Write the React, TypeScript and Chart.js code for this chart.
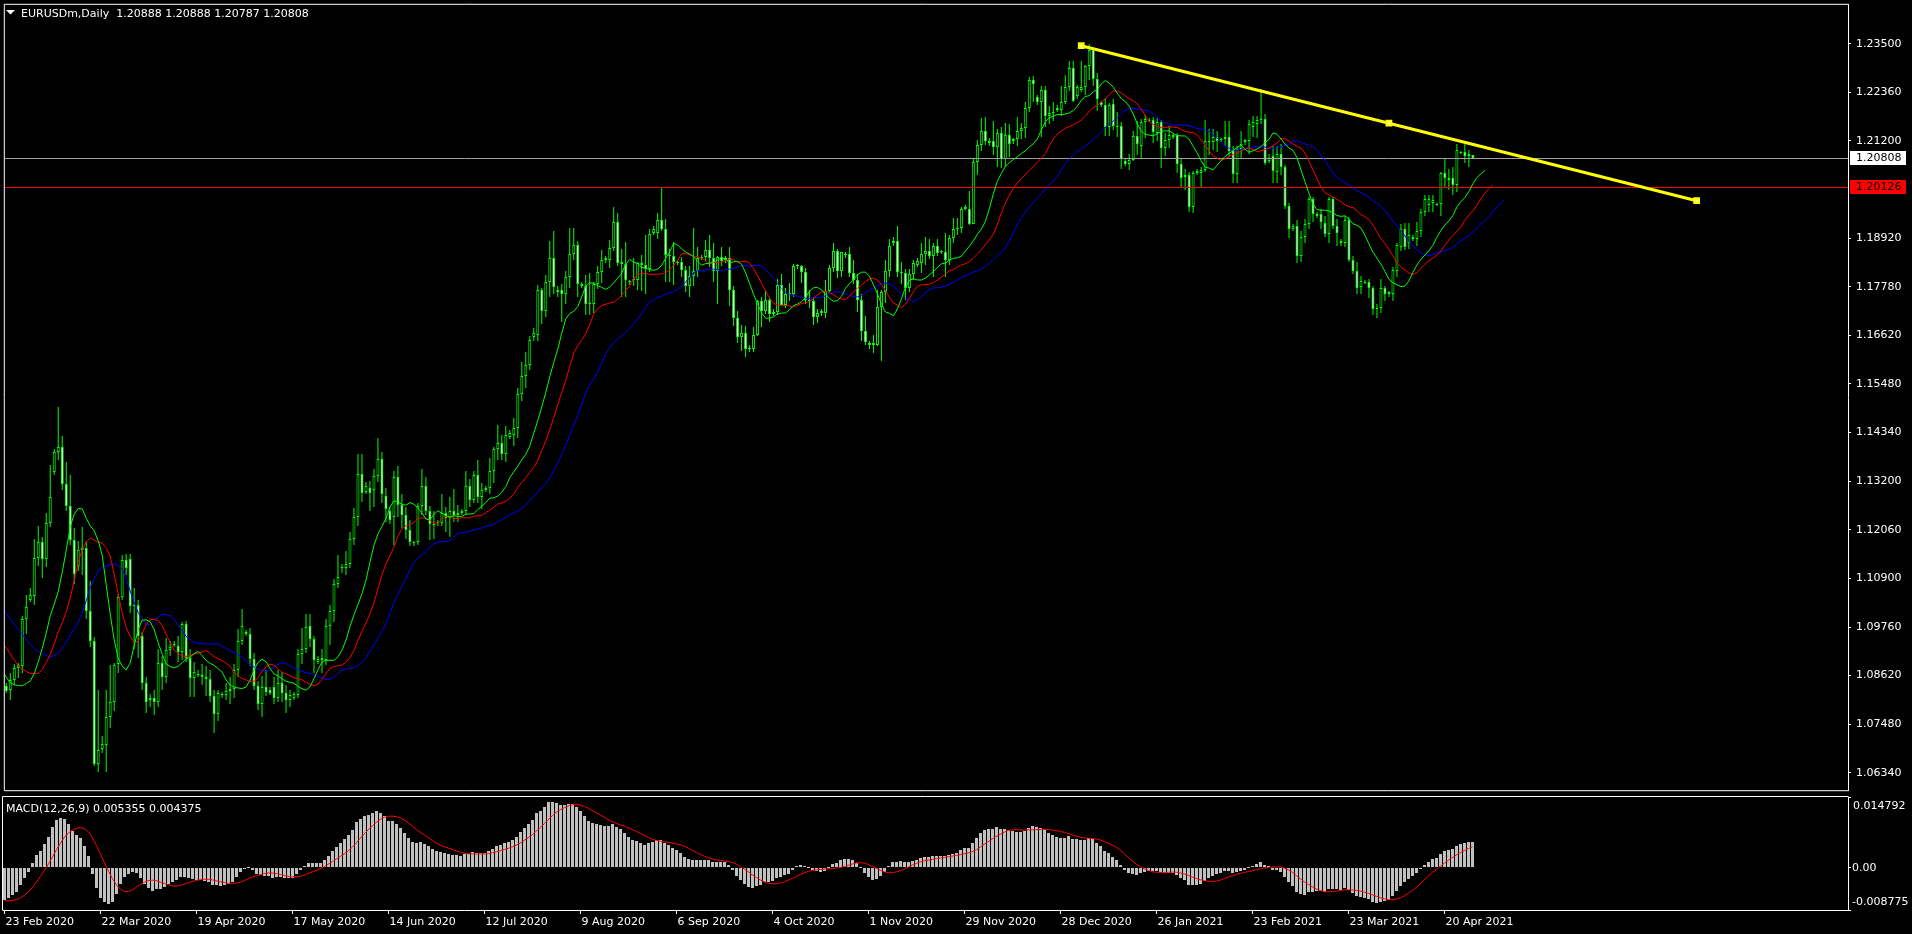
import React, { useEffect, useRef } from 'react';
import { Chart, registerables } from 'chart.js';

Chart.register(...registerables);

const FONT = '"DejaVu Sans", sans-serif';
const W = 1912;
const TOP_H = 795;
const BOT_H = 934 - TOP_H;

// ---------- visible daily bars (23 Feb 2020 .. 28 Apr 2021, incl. Sunday bars) ----------
const opens = [
  1.0838,1.0830,1.0852,1.0880,1.0886,1.0995,1.1040,1.1050,1.1140,1.1178,1.1138,1.1222,
  1.1343,1.1388,1.1400,1.1313,1.1263,1.1182,1.1121,1.1158,1.1164,1.1016,1.0944,1.0655,
  1.0690,1.0700,1.0765,1.0800,1.0891,1.1047,1.1135,1.1137,1.1027,1.1030,1.0955,1.0846,
  1.0805,1.0810,1.0800,1.0893,1.0860,1.0922,1.0938,1.0932,1.0918,1.0985,1.0905,1.0858,
  1.0866,1.0865,1.0860,1.0855,1.0815,1.0773,1.0820,1.0818,1.0826,1.0832,1.0875,1.0944,
  1.0965,1.0961,1.0901,1.0839,1.0797,1.0836,1.0830,1.0836,1.0809,1.0846,1.0821,1.0806,
  1.0810,1.0818,1.0914,1.0925,1.0979,1.0948,1.0895,1.0900,1.0900,1.0979,1.1016,1.1078,
  1.1115,1.1117,1.1126,1.1185,1.1236,1.1337,1.1295,1.1305,1.1300,1.1333,1.1373,1.1286,
  1.1250,1.1235,1.1330,1.1265,1.1240,1.1205,1.1175,1.1178,1.1262,1.1310,1.1250,1.1220,
  1.1225,1.1222,1.1245,1.1234,1.1250,1.1240,1.1245,1.1250,1.1310,1.1275,1.1334,1.1283,
  1.1300,1.1305,1.1345,1.1397,1.1410,1.1385,1.1425,1.1430,1.1445,1.1525,1.1568,1.1595,
  1.1660,1.1665,1.1770,1.1720,1.1790,1.1845,1.1770,1.1770,1.1762,1.1801,1.1856,1.1877,
  1.1785,1.1780,1.1737,1.1738,1.1784,1.1812,1.1840,1.1842,1.1870,1.1930,1.1837,1.1832,
  1.1790,1.1795,1.1794,1.1834,1.1830,1.1819,1.1905,1.1905,1.1936,1.1913,1.1853,1.1851,
  1.1835,1.1836,1.1817,1.1780,1.1803,1.1814,1.1845,1.1847,1.1865,1.1846,1.1814,1.1848,
  1.1840,1.1845,1.1770,1.1705,1.1660,1.1670,1.1632,1.1632,1.1665,1.1744,1.1720,1.1748,
  1.1715,1.1718,1.1782,1.1735,1.1760,1.1762,1.1826,1.1826,1.1813,1.1746,1.1745,1.1706,
  1.1717,1.1717,1.1768,1.1822,1.1863,1.1814,1.1855,1.1855,1.1811,1.1794,1.1746,1.1674,
  1.1645,1.1645,1.1641,1.1730,1.1765,1.1815,1.1880,1.1885,1.1813,1.1810,1.1776,1.1808,
  1.1830,1.1835,1.1855,1.1862,1.1850,1.1875,1.1860,1.1860,1.1842,1.1892,1.1915,1.1917,
  1.1962,1.1962,1.1926,1.2072,1.2112,1.2144,1.2121,1.2120,1.2106,1.2140,1.2079,1.2135,
  1.2120,1.2125,1.2145,1.2152,1.2199,1.2265,1.2225,1.2212,1.2240,1.2180,1.2186,1.2195,
  1.2195,1.2213,1.2249,1.2294,1.2227,1.2240,1.2247,1.2297,1.2336,1.2268,1.2212,1.2205,
  1.2153,1.2207,1.2157,1.2156,1.2075,1.2068,1.2076,1.2133,1.2110,1.2166,1.2168,1.2170,
  1.2141,1.2165,1.2105,1.2124,1.2135,1.2136,1.2066,1.2037,1.2040,1.1966,1.2045,1.2045,
  1.2052,1.2120,1.2118,1.2131,1.2123,1.2125,1.2130,1.2100,1.2043,1.2102,1.2118,1.2122,
  1.2155,1.2160,1.2170,1.2174,1.2075,1.2085,1.2047,1.2090,1.2060,1.1968,1.1915,1.1920,
  1.1850,1.1895,1.1925,1.1985,1.1950,1.1950,1.1928,1.1903,1.1985,1.1920,1.1885,1.1880,
  1.1935,1.1842,1.1814,1.1778,1.1790,1.1790,1.1774,1.1725,1.1728,1.1775,1.1760,1.1760,
  1.1815,1.1872,1.1915,1.1880,1.1895,1.1890,1.1910,1.1955,1.1970,1.1975,1.1971,1.1972,
  1.2045,1.2035,1.2035,1.2018,1.2092,1.2095,1.2085,1.20888,
];
const highs = [
  1.0846,1.0868,1.0891,1.0893,1.1004,1.1053,1.1070,1.1185,1.1214,1.1188,1.1245,1.1358,
  1.1397,1.1496,1.1426,1.1366,1.1335,1.1210,1.1180,1.1212,1.1180,1.1085,1.0953,1.0829,
  1.0720,1.0830,1.0887,1.0892,1.1055,1.1147,1.1150,1.1150,1.1070,1.1040,1.0965,1.0860,
  1.0820,1.0830,1.0925,1.0910,1.0952,1.0945,1.0945,1.0955,1.0990,1.0991,1.0925,1.0895,
  1.0875,1.0890,1.0885,1.0875,1.0830,1.0830,1.0825,1.0845,1.0860,1.0890,1.0972,1.1019,
  1.0970,1.0975,1.0915,1.0850,1.0862,1.0875,1.0836,1.0860,1.0875,1.0872,1.0840,1.0830,
  1.0825,1.0925,1.0975,1.1008,1.1008,1.0955,1.0910,1.0925,1.0995,1.1030,1.1090,1.1147,
  1.1125,1.1155,1.1200,1.1258,1.1385,1.1384,1.1318,1.1320,1.1350,1.1422,1.1390,1.1305,
  1.1260,1.1345,1.1355,1.1290,1.1260,1.1230,1.1180,1.1270,1.1349,1.1330,1.1262,1.1250,
  1.1230,1.1290,1.1260,1.1283,1.1303,1.1265,1.1255,1.1345,1.1325,1.1345,1.1370,1.1315,
  1.1310,1.1375,1.1402,1.1452,1.1430,1.1450,1.1440,1.1468,1.1540,1.1601,1.1625,1.1663,
  1.1680,1.1781,1.1776,1.1805,1.1885,1.1909,1.1780,1.1785,1.1815,1.1916,1.1917,1.1885,
  1.1790,1.1805,1.1810,1.1790,1.1826,1.1865,1.1850,1.1887,1.1966,1.1951,1.1868,1.1883,
  1.1795,1.1846,1.1837,1.1853,1.1901,1.1915,1.1920,1.1951,1.2011,1.1937,1.1867,1.1883,
  1.1840,1.1848,1.1827,1.1826,1.1917,1.1871,1.1853,1.1888,1.1901,1.1882,1.1851,1.1872,
  1.1850,1.1872,1.1780,1.1722,1.1688,1.1685,1.1640,1.1684,1.1746,1.1755,1.1770,1.1752,
  1.1725,1.1797,1.1809,1.1774,1.1786,1.1831,1.1832,1.1829,1.1821,1.1770,1.1755,1.1725,
  1.1725,1.1795,1.1830,1.1880,1.1866,1.1860,1.1860,1.1871,1.1842,1.1807,1.1760,1.1710,
  1.1650,1.1665,1.1770,1.1770,1.1840,1.1890,1.1895,1.1920,1.1837,1.1820,1.1820,1.1840,
  1.1845,1.1880,1.1895,1.1890,1.1880,1.1890,1.1865,1.1905,1.1900,1.1940,1.1940,1.1965,
  1.1970,1.2004,1.2078,1.2124,1.2176,1.2177,1.2128,1.2167,1.2150,1.2154,1.2163,1.2162,
  1.2128,1.2178,1.2163,1.2212,1.2272,1.2273,1.2230,1.2250,1.2250,1.2203,1.2212,1.2205,
  1.2250,1.2276,1.2310,1.2310,1.2252,1.2310,1.2300,1.2349,1.2340,1.2280,1.2215,1.2223,
  1.2211,1.2221,1.2190,1.2166,1.2080,1.2090,1.2145,1.2168,1.2172,1.2183,1.2175,1.2177,
  1.2175,1.2170,1.2140,1.2156,1.2140,1.2140,1.2079,1.2055,1.2047,1.2050,1.2055,1.2060,
  1.2170,1.2150,1.2149,1.2145,1.2128,1.2168,1.2169,1.2110,1.2110,1.2144,1.2126,1.2170,
  1.2181,1.2180,1.2243,1.2184,1.2090,1.2110,1.2110,1.2113,1.2065,1.1975,1.1925,1.1935,
  1.1910,1.1937,1.1990,1.1990,1.1955,1.1962,1.1944,1.1990,1.1990,1.1937,1.1890,1.1945,
  1.1943,1.1851,1.1836,1.1803,1.1795,1.1797,1.1780,1.1738,1.1796,1.1780,1.1768,1.1825,
  1.1880,1.1925,1.1928,1.1928,1.1900,1.1930,1.1960,1.1995,1.1995,1.1995,1.1975,1.2048,
  1.2080,1.2055,1.2060,1.2115,1.2098,1.2115,1.2100,1.20888,
];
const lows = [
  1.0821,1.0805,1.0840,1.0857,1.0870,1.0960,1.1035,1.1030,1.1120,1.1093,1.1118,1.1213,
  1.1335,1.1370,1.1300,1.1250,1.1171,1.1078,1.1110,1.1100,1.0995,1.0930,1.0650,1.0637,
  1.0680,1.0636,1.0740,1.0780,1.0868,1.1040,1.1100,1.1010,1.0925,1.0905,1.0830,1.0775,
  1.0790,1.0770,1.0790,1.0830,1.0845,1.0910,1.0930,1.0895,1.0900,1.0895,1.0812,1.0812,
  1.0860,1.0840,1.0815,1.0800,1.0728,1.0755,1.0810,1.0805,1.0795,1.0810,1.0860,1.0935,
  1.0955,1.0885,1.0830,1.0782,1.0766,1.0815,1.0818,1.0795,1.0800,1.0800,1.0775,1.0790,
  1.0805,1.0810,1.0890,1.0915,1.0930,1.0870,1.0890,1.0870,1.0888,1.0935,1.0990,1.1070,
  1.1105,1.1100,1.1115,1.1170,1.1215,1.1272,1.1290,1.1250,1.1260,1.1318,1.1270,1.1225,
  1.1220,1.1170,1.1235,1.1210,1.1185,1.1168,1.1168,1.1170,1.1240,1.1240,1.1183,1.1185,
  1.1215,1.1215,1.1200,1.1190,1.1225,1.1225,1.1240,1.1240,1.1260,1.1268,1.1270,1.1255,
  1.1295,1.1290,1.1317,1.1370,1.1370,1.1366,1.1420,1.1403,1.1422,1.1510,1.1540,1.1583,
  1.1650,1.1650,1.1690,1.1706,1.1755,1.1762,1.1755,1.1696,1.1737,1.1776,1.1841,1.1754,
  1.1775,1.1711,1.1711,1.1716,1.1772,1.1787,1.1835,1.1823,1.1863,1.1828,1.1754,1.1754,
  1.1783,1.1780,1.1771,1.1769,1.1762,1.1812,1.1900,1.1890,1.1910,1.1789,1.1789,1.1781,
  1.1830,1.1801,1.1765,1.1753,1.1780,1.1800,1.1840,1.1838,1.1825,1.1790,1.1737,1.1826,
  1.1835,1.1732,1.1685,1.1646,1.1627,1.1612,1.1625,1.1624,1.1662,1.1683,1.1715,1.1696,
  1.1710,1.1712,1.1734,1.1729,1.1745,1.1755,1.1820,1.1787,1.1738,1.1727,1.1688,1.1693,
  1.1710,1.1704,1.1766,1.1813,1.1798,1.1802,1.1845,1.1802,1.1785,1.1718,1.1650,1.1640,
  1.1632,1.1622,1.1638,1.1603,1.1740,1.1800,1.1875,1.1800,1.1785,1.1746,1.1765,1.1795,
  1.1825,1.1810,1.1830,1.1843,1.1800,1.1850,1.1855,1.1800,1.1830,1.1880,1.1900,1.1905,
  1.1958,1.1923,1.1925,1.2040,1.2098,1.2111,1.2110,1.2088,1.2059,1.2058,1.2059,1.2084,
  1.2115,1.2110,1.2126,1.2127,1.2190,1.2214,1.2205,1.2130,1.2153,1.2160,1.2168,1.2190,
  1.2180,1.2208,1.2239,1.2212,1.2220,1.2236,1.2230,1.2264,1.2250,1.2192,1.2200,1.2132,
  1.2132,1.2148,1.2130,1.2054,1.2062,1.2053,1.2074,1.2087,1.2080,1.2129,1.2165,1.2116,
  1.2120,1.2058,1.2085,1.2105,1.2125,1.2046,1.2010,1.2005,1.1953,1.1952,1.2040,1.2010,
  1.2048,1.2088,1.2100,1.2094,1.2118,1.2110,1.2085,1.2023,1.2022,1.2081,1.2112,1.2090,
  1.2130,1.2128,1.2161,1.2065,1.2070,1.2023,1.2022,1.2040,1.1962,1.1893,1.1910,1.1835,
  1.1836,1.1880,1.1913,1.1930,1.1940,1.1913,1.1894,1.1880,1.1913,1.1873,1.1875,1.1872,
  1.1836,1.1808,1.1762,1.1760,1.1785,1.1752,1.1712,1.1704,1.1716,1.1745,1.1755,1.1745,
  1.1800,1.1862,1.1865,1.1867,1.1885,1.1875,1.1895,1.1945,1.1955,1.1953,1.1968,1.1945,
  1.2010,1.2005,1.1995,1.2000,1.2090,1.2070,1.2060,1.20787,
];
const closes = [
  1.0826,1.0852,1.0880,1.0887,1.0995,1.1025,1.1052,1.1140,1.1177,1.1138,1.1222,1.1283,
  1.1388,1.1400,1.1313,1.1263,1.1182,1.1101,1.1158,1.1164,1.1016,1.0944,1.0656,1.0688,
  1.0702,1.0765,1.0800,1.0889,1.1047,1.1135,1.1117,1.1027,1.1030,1.0955,1.0846,1.0801,
  1.0811,1.0800,1.0893,1.0860,1.0922,1.0930,1.0934,1.0918,1.0985,1.0905,1.0858,1.0872,
  1.0865,1.0860,1.0855,1.0815,1.0773,1.0822,1.0817,1.0826,1.0832,1.0875,1.0944,1.0979,
  1.0961,1.0901,1.0839,1.0797,1.0836,1.0825,1.0823,1.0809,1.0846,1.0821,1.0806,1.0818,
  1.0820,1.0914,1.0925,1.0977,1.0948,1.0899,1.0903,1.0905,1.0979,1.1016,1.1078,1.1096,
  1.1117,1.1126,1.1185,1.1236,1.1337,1.1292,1.1310,1.1293,1.1333,1.1373,1.1290,1.1256,
  1.1230,1.1330,1.1265,1.1240,1.1205,1.1177,1.1178,1.1262,1.1310,1.1250,1.1220,1.1218,
  1.1222,1.1245,1.1234,1.1250,1.1240,1.1245,1.1250,1.1310,1.1275,1.1334,1.1283,1.1300,
  1.1305,1.1345,1.1397,1.1410,1.1385,1.1428,1.1435,1.1445,1.1525,1.1568,1.1595,1.1653,
  1.1670,1.1770,1.1720,1.1790,1.1845,1.1778,1.1765,1.1762,1.1801,1.1856,1.1877,1.1785,
  1.1780,1.1737,1.1738,1.1784,1.1812,1.1842,1.1845,1.1870,1.1930,1.1834,1.1832,1.1795,
  1.1790,1.1794,1.1834,1.1829,1.1819,1.1903,1.1915,1.1936,1.1915,1.1853,1.1851,1.1837,
  1.1836,1.1817,1.1780,1.1803,1.1814,1.1845,1.1847,1.1865,1.1846,1.1814,1.1848,1.1839,
  1.1845,1.1770,1.1705,1.1660,1.1670,1.1632,1.1635,1.1665,1.1744,1.1720,1.1748,1.1715,
  1.1718,1.1782,1.1735,1.1760,1.1762,1.1826,1.1828,1.1813,1.1746,1.1745,1.1706,1.1717,
  1.1720,1.1768,1.1822,1.1863,1.1814,1.1859,1.1852,1.1811,1.1794,1.1746,1.1674,1.1647,
  1.1642,1.1641,1.1730,1.1765,1.1815,1.1875,1.1885,1.1813,1.1810,1.1776,1.1808,1.1833,
  1.1838,1.1855,1.1863,1.1850,1.1875,1.1857,1.1862,1.1842,1.1892,1.1915,1.1917,1.1962,
  1.1965,1.1926,1.2072,1.2112,1.2144,1.2121,1.2117,1.2106,1.2140,1.2079,1.2135,1.2113,
  1.2125,1.2145,1.2152,1.2199,1.2265,1.2255,1.2212,1.2240,1.2180,1.2186,1.2190,1.2198,
  1.2213,1.2249,1.2294,1.2215,1.2249,1.2247,1.2297,1.2336,1.2268,1.2219,1.2205,1.2153,
  1.2206,1.2157,1.2154,1.2078,1.2068,1.2076,1.2133,1.2114,1.2166,1.2172,1.2170,1.2143,
  1.2165,1.2105,1.2124,1.2136,1.2130,1.2068,1.2035,1.2040,1.1966,1.2045,1.2050,1.2052,
  1.2120,1.2118,1.2131,1.2120,1.2125,1.2130,1.2097,1.2043,1.2103,1.2115,1.2124,1.2160,
  1.2165,1.2170,1.2174,1.2070,1.2082,1.2050,1.2090,1.2060,1.1968,1.1913,1.1922,1.1850,
  1.1895,1.1925,1.1985,1.1950,1.1945,1.1930,1.1903,1.1985,1.1920,1.1905,1.1880,1.1935,
  1.1842,1.1814,1.1775,1.1792,1.1787,1.1774,1.1725,1.1728,1.1775,1.1761,1.1765,1.1818,
  1.1876,1.1915,1.1872,1.1900,1.1890,1.1910,1.1955,1.1985,1.1985,1.1983,1.1972,1.2045,
  1.2035,1.2030,1.2018,1.2100,1.2095,1.2085,1.2090,1.20808,
];

// ---------- earlier bars (Jan - 21 Feb 2020), only feed the indicators ----------
const histHighs = [
  1.1228,1.1174,1.1170,1.1206,1.1196,1.1165,1.1118,1.1128,1.1125,1.1145,1.1146,
  1.1167,1.1173,1.1142,1.1095,1.1101,1.1101,1.1096,1.1100,1.1060,1.1030,1.1037,
  1.1030,1.1030,1.1043,1.1096,1.1095,1.1096,1.1066,1.1050,1.1014,1.0986,1.0948,
  1.0955,1.0930,1.0929,1.0870,1.0862,1.0836,1.0845,1.0851,1.0818,1.0810,1.0863,
];
const histLows = [
  1.1163,1.1125,1.1155,1.1150,1.1134,1.1091,1.1087,1.1091,1.1115,1.1110,1.1104,
  1.1117,1.1133,1.1085,1.1087,1.1080,1.1075,1.1076,1.1036,1.1020,1.1018,1.1009,
  1.1008,1.0992,1.1004,1.1019,1.1085,1.1056,1.1038,1.0995,1.0973,1.0942,1.0938,
  1.0905,1.0891,1.0870,1.0834,1.0827,1.0828,1.0822,1.0785,1.0778,1.0778,1.0778,
];
const histCloses = [
  1.1172,1.1160,1.1163,1.1196,1.1152,1.1105,1.1105,1.1120,1.1120,1.1134,1.1127,
  1.1150,1.1136,1.1091,1.1092,1.1094,1.1082,1.1093,1.1054,1.1025,1.1022,1.1019,
  1.1021,1.1009,1.1031,1.1093,1.1090,1.1059,1.1044,1.1002,1.0980,1.0945,1.0943,
  1.0912,1.0915,1.0875,1.0840,1.0830,1.0834,1.0836,1.0792,1.0805,1.0783,1.0847,
];

// ---------- axes / annotations ----------
const symbolTitle = 'EURUSDm,Daily';
const bidPrice = 1.20808;
const levelPrice = 1.20126;
const trendBars = [269, 346, 423];
const trendPrices = [1.23453, 1.21629, 1.19805];
const priceTickValues = [1.235, 1.22356, 1.21212, 1.18924, 1.1778, 1.16636, 1.15492, 1.14348,
  1.13204, 1.1206, 1.10916, 1.09772, 1.08628, 1.07484, 1.0634];
const priceTickLabels = ['1.23500', '1.22360', '1.21200', '1.18920', '1.17780', '1.16620', '1.15480',
  '1.14340', '1.13200', '1.12060', '1.10900', '1.09760', '1.08620', '1.07480', '1.06340'];
const priceMin = 1.059317;
const priceMax = 1.24416;
const dateTickBars = [0, 24, 48, 72, 96, 120, 144, 168, 192, 216, 240, 264, 288, 312, 336, 360];
const dateTickLabels = ['23 Feb 2020', '22 Mar 2020', '19 Apr 2020', '17 May 2020', '14 Jun 2020',
  '12 Jul 2020', '9 Aug 2020', '6 Sep 2020', '4 Oct 2020', '1 Nov 2020', '29 Nov 2020',
  '28 Dec 2020', '26 Jan 2021', '23 Feb 2021', '23 Mar 2021', '20 Apr 2021'];
const macdMax = 0.014792;
const macdMin = -0.008775;
const macdTitle = 'MACD(12,26,9) 0.005355 0.004375';
const macdLabels = ['0.014792', '0.00', '-0.008775'];
const xMin = -0.375;
const xMax = 460.875;

// ---------- indicator maths ----------
function smma(src: number[], n: number): (number | null)[] {
  const out: (number | null)[] = new Array(src.length).fill(null);
  let sum = 0;
  for (let i = 0; i < src.length; i++) {
    if (i < n) {
      sum += src[i];
      if (i === n - 1) out[i] = sum / n;
    } else {
      out[i] = ((out[i - 1] as number) * (n - 1) + src[i]) / n;
    }
  }
  return out;
}
function ema(src: number[], n: number): number[] {
  const k = 2 / (n + 1);
  const out: number[] = [];
  for (let i = 0; i < src.length; i++) out.push(i === 0 ? src[0] : src[i] * k + out[i - 1] * (1 - k));
  return out;
}
function sma(src: number[], n: number): (number | null)[] {
  return src.map((_, i) => {
    if (i < n - 1) return null;
    let s = 0;
    for (let j = i - n + 1; j <= i; j++) s += src[j];
    return s / n;
  });
}

const noPad = (s: any) => {
  s.paddingTop = 0;
  s.paddingBottom = 0;
  s.paddingLeft = 0;
  s.paddingRight = 0;
};

// snaps library-computed element geometry to whole pixels (MT4 draws without anti-aliasing)
const pixelSnap = {
  id: 'pixelSnap',
  beforeDatasetsDraw(chart: any) {
    chart.data.datasets.forEach((ds: any, di: number) => {
      if (!ds.snap) return;
      const meta = chart.getDatasetMeta(di);
      meta.data.forEach((el: any) => {
        if (ds.snap === 'bar') {
          let y = Math.round(el.y);
          let b = Math.round(el.base);
          if (y === b) y = b - 1;
          el.y = y;
          el.base = b;
        } else if (ds.snap === 'hline') {
          el.y = Math.floor(el.y) + 0.5;
        }
      });
    });
  },
};

export default function App() {
  const topRef = useRef<HTMLCanvasElement>(null);
  const botRef = useRef<HTMLCanvasElement>(null);

  useEffect(() => {
    document.body.style.margin = '0';
    document.body.style.background = '#000';
    document.body.style.overflow = 'hidden';

    const H0 = histCloses.length;
    const allH = histHighs.concat(highs);
    const allL = histLows.concat(lows);
    const allC = histCloses.concat(closes);
    const med = allH.map((h, i) => (h + allL[i]) / 2);
    const jaw = smma(med, 13);
    const teeth = smma(med, 8);
    const lips = smma(med, 5);
    const e12 = ema(allC, 12);
    const e26 = ema(allC, 26);
    const macdMain = e12.map((v, i) => v - e26[i]);
    const macdSig = sma(macdMain, 9);

    const shifted = (arr: (number | null)[], shift: number) =>
      arr
        .map((v, j) => ({ x: j - H0 + shift, y: v }))
        .filter((p) => p.y !== null && p.x >= -3);

    const bodies = closes.map((c, i) => ({ x: i, y: [opens[i], c] }));
    const bodyColors = closes.map((c, i) => (c >= opens[i] ? '#000000' : '#FFFFFF'));
    const wicks = closes.map((c, i) => ({
      x: i,
      y: [Math.min(lows[i], opens[i], c), Math.max(highs[i], opens[i], c)],
    }));
    const trendPts = trendBars.map((b, i) => ({ x: b, y: trendPrices[i] }));

    const last = closes.length - 1;
    const headerText = `${symbolTitle}  ${opens[last].toFixed(5)} ${highs[last].toFixed(5)} ${lows[last].toFixed(5)} ${closes[last].toFixed(5)}`;

    const mainDecor = {
      id: 'mainDecor',
      afterDraw(chart: any) {
        const { ctx, chartArea } = chart;
        const { left, top, right, bottom } = chartArea;
        const ys = chart.scales.y;
        ctx.save();
        ctx.strokeStyle = '#FFFFFF';
        ctx.lineWidth = 1;
        ctx.beginPath();
        ctx.moveTo(left - 0.5, top - 0.5);
        ctx.lineTo(right + 0.5, top - 0.5);
        ctx.moveTo(left - 0.5, top - 0.5);
        ctx.lineTo(left - 0.5, bottom + 0.5);
        ctx.moveTo(left - 0.5, bottom + 0.5);
        ctx.lineTo(right + 0.5, bottom + 0.5);
        ctx.stroke();
        ctx.fillStyle = '#FFFFFF';
        ctx.beginPath();
        ctx.moveTo(6, 10);
        ctx.lineTo(15, 10);
        ctx.lineTo(10.5, 14.5);
        ctx.closePath();
        ctx.fill();
        ctx.font = `11px ${FONT}`;
        ctx.textBaseline = 'alphabetic';
        ctx.textAlign = 'left';
        ctx.fillText(headerText, 21, 17);
        const boxes = [
          { v: bidPrice, bg: '#FFFFFF' },
          { v: levelPrice, bg: '#FF0000' },
        ];
        for (const b of boxes) {
          const py = Math.round(ys.getPixelForValue(b.v));
          ctx.fillStyle = b.bg;
          ctx.fillRect(right + 2, py - 7, 56, 14);
          ctx.fillStyle = '#000000';
          ctx.textBaseline = 'middle';
          ctx.fillText(b.v.toFixed(5), right + 8, py + 0.5);
        }
        ctx.restore();
      },
    };

    const macdDecor = {
      id: 'macdDecor',
      afterDraw(chart: any) {
        const { ctx, chartArea } = chart;
        const { left, top, right, bottom } = chartArea;
        const ys = chart.scales.y;
        ctx.save();
        ctx.strokeStyle = '#FFFFFF';
        ctx.lineWidth = 1;
        ctx.beginPath();
        ctx.moveTo(left - 0.5, top - 0.5);
        ctx.lineTo(right + 0.5, top - 0.5);
        ctx.moveTo(left - 0.5, top - 0.5);
        ctx.lineTo(left - 0.5, bottom + 0.5);
        ctx.stroke();
        ctx.fillStyle = '#FFFFFF';
        ctx.font = `11px ${FONT}`;
        ctx.textAlign = 'left';
        ctx.textBaseline = 'alphabetic';
        ctx.fillText(macdTitle, 6, 17);
        ctx.textBaseline = 'middle';
        ctx.fillText(macdLabels[0], right + 5, ys.getPixelForValue(macdMax) + 9);
        ctx.fillText(macdLabels[1], right + 4, ys.getPixelForValue(0));
        ctx.fillText(macdLabels[2], right + 4, ys.getPixelForValue(macdMin) - 7.5);
        ctx.restore();
      },
    };

    const lineBase = { pointRadius: 0, borderWidth: 1, tension: 0, fill: false };

    const top = new Chart(topRef.current as HTMLCanvasElement, {
      type: 'bar',
      data: {
        datasets: [
          {
            type: 'line',
            data: trendPts,
            borderColor: '#FFFF00',
            borderWidth: 3,
            pointStyle: 'rect',
            pointRadius: 4.8,
            pointBackgroundColor: '#FFFF00',
            pointBorderWidth: 0,
            order: 0,
          } as any,
          {
            type: 'line',
            data: trendPts,
            showLine: false,
            pointStyle: 'rect',
            pointRadius: 1.4,
            pointBackgroundColor: '#FFFFFF',
            pointBorderWidth: 0,
            order: -1,
          } as any,
          { type: 'line', data: shifted(lips, 3), borderColor: '#00FF00', ...lineBase, order: 1 } as any,
          { type: 'line', data: shifted(teeth, 5), borderColor: '#FF0000', ...lineBase, order: 2 } as any,
          { type: 'line', data: shifted(jaw, 8), borderColor: '#0000FF', ...lineBase, order: 3 } as any,
          {
            type: 'line',
            data: [{ x: -2, y: bidPrice }, { x: 470, y: bidPrice }],
            borderColor: '#A0A0A0',
            snap: 'hline',
            ...lineBase,
            order: 4,
          } as any,
          {
            type: 'line',
            data: [{ x: -2, y: levelPrice }, { x: 470, y: levelPrice }],
            borderColor: '#FF0000',
            snap: 'hline',
            ...lineBase,
            order: 4,
          } as any,
          {
            type: 'bar',
            data: bodies,
            backgroundColor: bodyColors,
            borderColor: '#00FF00',
            borderWidth: 1,
            borderSkipped: false,
            barThickness: 3,
            grouped: false,
            minBarLength: 1,
            inflateAmount: 0,
            snap: 'bar',
            order: 5,
          } as any,
          {
            type: 'bar',
            data: wicks,
            backgroundColor: '#00FF00',
            borderWidth: 0,
            barThickness: 1,
            grouped: false,
            inflateAmount: 0,
            snap: 'bar',
            order: 6,
          } as any,
        ],
      },
      options: {
        animation: false,
        responsive: false,
        maintainAspectRatio: false,
        devicePixelRatio: 1,
        events: [],
        layout: { padding: { left: 3, top: 2, right: 0, bottom: 2 } },
        plugins: { legend: { display: false }, tooltip: { enabled: false } },
        scales: {
          x: { type: 'linear', min: xMin, max: xMax, offset: false, display: false },
          y: {
            type: 'linear',
            position: 'right',
            min: priceMin,
            max: priceMax,
            afterBuildTicks: (s: any) => {
              s.ticks = priceTickValues.map((v) => ({ value: v }));
            },
            afterFit: (s: any) => {
              s.width = W - 1848;
              noPad(s);
            },
            ticks: {
              color: '#FFFFFF',
              font: { family: FONT, size: 11 },
              padding: 5,
              autoSkip: false,
              callback: (_v: any, i: number) => priceTickLabels[i],
            },
            grid: { drawOnChartArea: false, drawTicks: true, tickLength: 3, color: '#FFFFFF' },
            border: { display: true, color: '#FFFFFF', width: 1 },
          },
        },
      } as any,
      plugins: [pixelSnap, mainDecor],
    });

    const hist = macdMain.slice(H0).map((v, i) => ({ x: i, y: v }));
    const sig = macdSig.slice(H0).map((v, i) => ({ x: i, y: v }));

    const bot = new Chart(botRef.current as HTMLCanvasElement, {
      type: 'bar',
      data: {
        datasets: [
          { type: 'line', data: sig, borderColor: '#FF0000', ...lineBase, order: 0 } as any,
          {
            type: 'bar',
            data: hist,
            backgroundColor: '#C0C0C0',
            borderWidth: 0,
            barThickness: 3,
            grouped: false,
            inflateAmount: 0,
            snap: 'bar',
            order: 1,
          } as any,
        ],
      },
      options: {
        animation: false,
        responsive: false,
        maintainAspectRatio: false,
        devicePixelRatio: 1,
        events: [],
        layout: { padding: { left: 3, top: 2, right: 0, bottom: 0 } },
        plugins: { legend: { display: false }, tooltip: { enabled: false } },
        scales: {
          x: {
            type: 'linear',
            min: xMin,
            max: xMax,
            offset: false,
            position: 'bottom',
            afterBuildTicks: (s: any) => {
              s.ticks = dateTickBars.map((v) => ({ value: v }));
            },
            afterFit: (s: any) => {
              s.height = 24;
              noPad(s);
            },
            ticks: {
              color: '#FFFFFF',
              font: { family: FONT, size: 11 },
              autoSkip: false,
              maxRotation: 0,
              minRotation: 0,
              align: 'start',
              padding: 2,
              labelOffset: 1,
              callback: (_v: any, i: number) => dateTickLabels[i],
            },
            grid: { drawOnChartArea: false, drawTicks: true, tickLength: 4, color: '#FFFFFF', offset: false },
            border: { display: true, color: '#FFFFFF', width: 1 },
          },
          y: {
            type: 'linear',
            position: 'right',
            min: macdMin,
            max: macdMax,
            afterBuildTicks: (s: any) => {
              s.ticks = [macdMax, 0, macdMin].map((v) => ({ value: v }));
            },
            afterFit: (s: any) => {
              s.width = W - 1848;
              noPad(s);
            },
            ticks: { color: 'rgba(0,0,0,0)', font: { family: FONT, size: 11 }, autoSkip: false },
            grid: { drawOnChartArea: false, drawTicks: true, tickLength: 3, color: '#FFFFFF' },
            border: { display: true, color: '#FFFFFF', width: 1 },
          },
        },
      } as any,
      plugins: [pixelSnap, macdDecor],
    });

    return () => {
      top.destroy();
      bot.destroy();
    };
  }, []);

  return (
    <div style={{ position: 'fixed', left: 0, top: 0, width: W, height: 934, background: '#000' }}>
      <canvas
        ref={topRef}
        width={W}
        height={TOP_H}
        style={{ position: 'absolute', left: 0, top: 0, width: W, height: TOP_H }}
      />
      <canvas
        ref={botRef}
        width={W}
        height={BOT_H}
        style={{ position: 'absolute', left: 0, top: TOP_H, width: W, height: BOT_H }}
      />
    </div>
  );
}
